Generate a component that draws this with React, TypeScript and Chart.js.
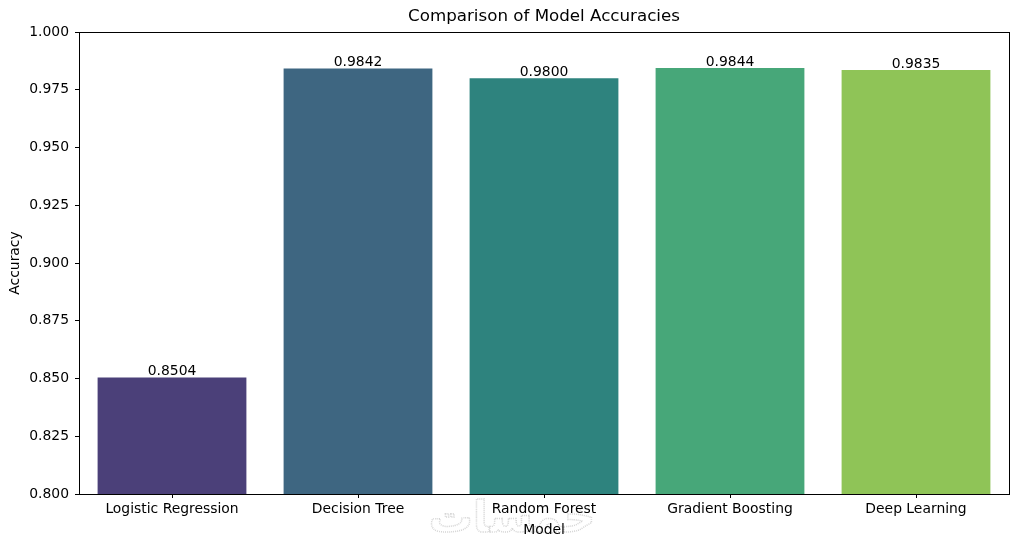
import React, { useEffect, useRef } from "react";
import { Chart, registerables } from "chart.js";

Chart.register(...registerables);

const categories = ["Logistic Regression", "Decision Tree", "Random Forest", "Gradient Boosting", "Deep Learning"];
const accuracies = [0.8504, 0.9842, 0.98, 0.9844, 0.9835];
const barColors = ["#4b4079", "#3e6681", "#2e837e", "#47a779", "#8fc457"];
const valueLabels = ["0.8504", "0.9842", "0.9800", "0.9844", "0.9835"];
const chartTitle = "Comparison of Model Accuracies";
const FONT = "'DejaVu Sans', sans-serif";
const TICK_SIZE = 13.9;
const TITLE_SIZE = 16.7;

const decorPlugin = {
  id: "decor",
  beforeDraw(chart: any) {
    const ctx = chart.ctx;
    ctx.save();
    ctx.fillStyle = "#ffffff";
    ctx.fillRect(0, 0, chart.width, chart.height);
    // watermark
    ctx.font = `bold 44px 'DejaVu Sans', sans-serif`;
    ctx.textAlign = "center";
    ctx.textBaseline = "middle";
    ctx.strokeStyle = "#d6d6d6";
    ctx.lineWidth = 1.5;
    ctx.setLineDash([1, 1]);
    ctx.strokeText("خمسات", 512, 521);
    ctx.restore();
  },
  afterDraw(chart: any) {
    const ctx = chart.ctx;
    const a = chart.chartArea;
    ctx.save();
    ctx.strokeStyle = "#000";
    ctx.lineWidth = 1;
    ctx.strokeRect(Math.round(a.left) + 0.5, Math.round(a.top) + 0.5, Math.round(a.right - a.left), Math.round(a.bottom - a.top));
    ctx.fillStyle = "#000";
    ctx.font = `${TITLE_SIZE}px ${FONT}`;
    ctx.textAlign = "center";
    ctx.textBaseline = "middle";
    ctx.fillText(chartTitle, (a.left + a.right) / 2, 17);
    ctx.font = `${TICK_SIZE}px ${FONT}`;
    ctx.textBaseline = "bottom";
    const meta = chart.getDatasetMeta(0);
    meta.data.forEach((bar: any, i: number) => {
      ctx.fillText(valueLabels[i], bar.x, bar.y + 1);
    });
    ctx.restore();
  },
};

export default function App() {
  const ref = useRef<HTMLCanvasElement>(null);
  useEffect(() => {
    document.body.style.margin = "0";
    const chart = new Chart(ref.current!, {
      type: "bar",
      data: {
        labels: categories,
        datasets: [
          {
            data: accuracies,
            backgroundColor: barColors,
            barPercentage: 0.8,
            categoryPercentage: 1,
            borderWidth: 0,
          },
        ],
      },
      options: {
        responsive: false,
        animation: false,
        devicePixelRatio: 1,
        layout: { padding: { top: 32, right: 9, left: 0, bottom: 0 } },
        plugins: { legend: { display: false }, tooltip: { enabled: false }, title: { display: false } },
        scales: {
          x: {
            offset: true,
            grid: { drawOnChartArea: false, drawTicks: true, tickLength: 4, tickColor: "#000", offset: false },
            border: { display: true, color: "#000" },
            ticks: { color: "#000", font: { family: FONT, size: TICK_SIZE }, padding: 3, maxRotation: 0 },
            title: { display: true, text: "Model", color: "#000", font: { family: FONT, size: TICK_SIZE }, padding: { top: 0, bottom: 8 } },
            afterFit: (s: any) => { s.height = 53; },
          },
          y: {
            min: 0.8,
            max: 1.0,
            grid: { drawOnChartArea: false, drawTicks: true, tickLength: 4, tickColor: "#000" },
            border: { display: true, color: "#000" },
            ticks: { stepSize: 0.025, color: "#000", font: { family: FONT, size: TICK_SIZE }, padding: 6, callback: (v: any) => Number(v).toFixed(3) },
            title: { display: true, text: "Accuracy", color: "#000", font: { family: FONT, size: TICK_SIZE }, padding: { top: 7, bottom: 0 } },
            afterFit: (s: any) => { s.width = 79; },
          },
        },
      },
      plugins: [decorPlugin],
    });
    return () => chart.destroy();
  }, []);
  return (
    <div style={{ width: 1018, height: 547 }}>
      <canvas ref={ref} width={1018} height={547} />
    </div>
  );
}
